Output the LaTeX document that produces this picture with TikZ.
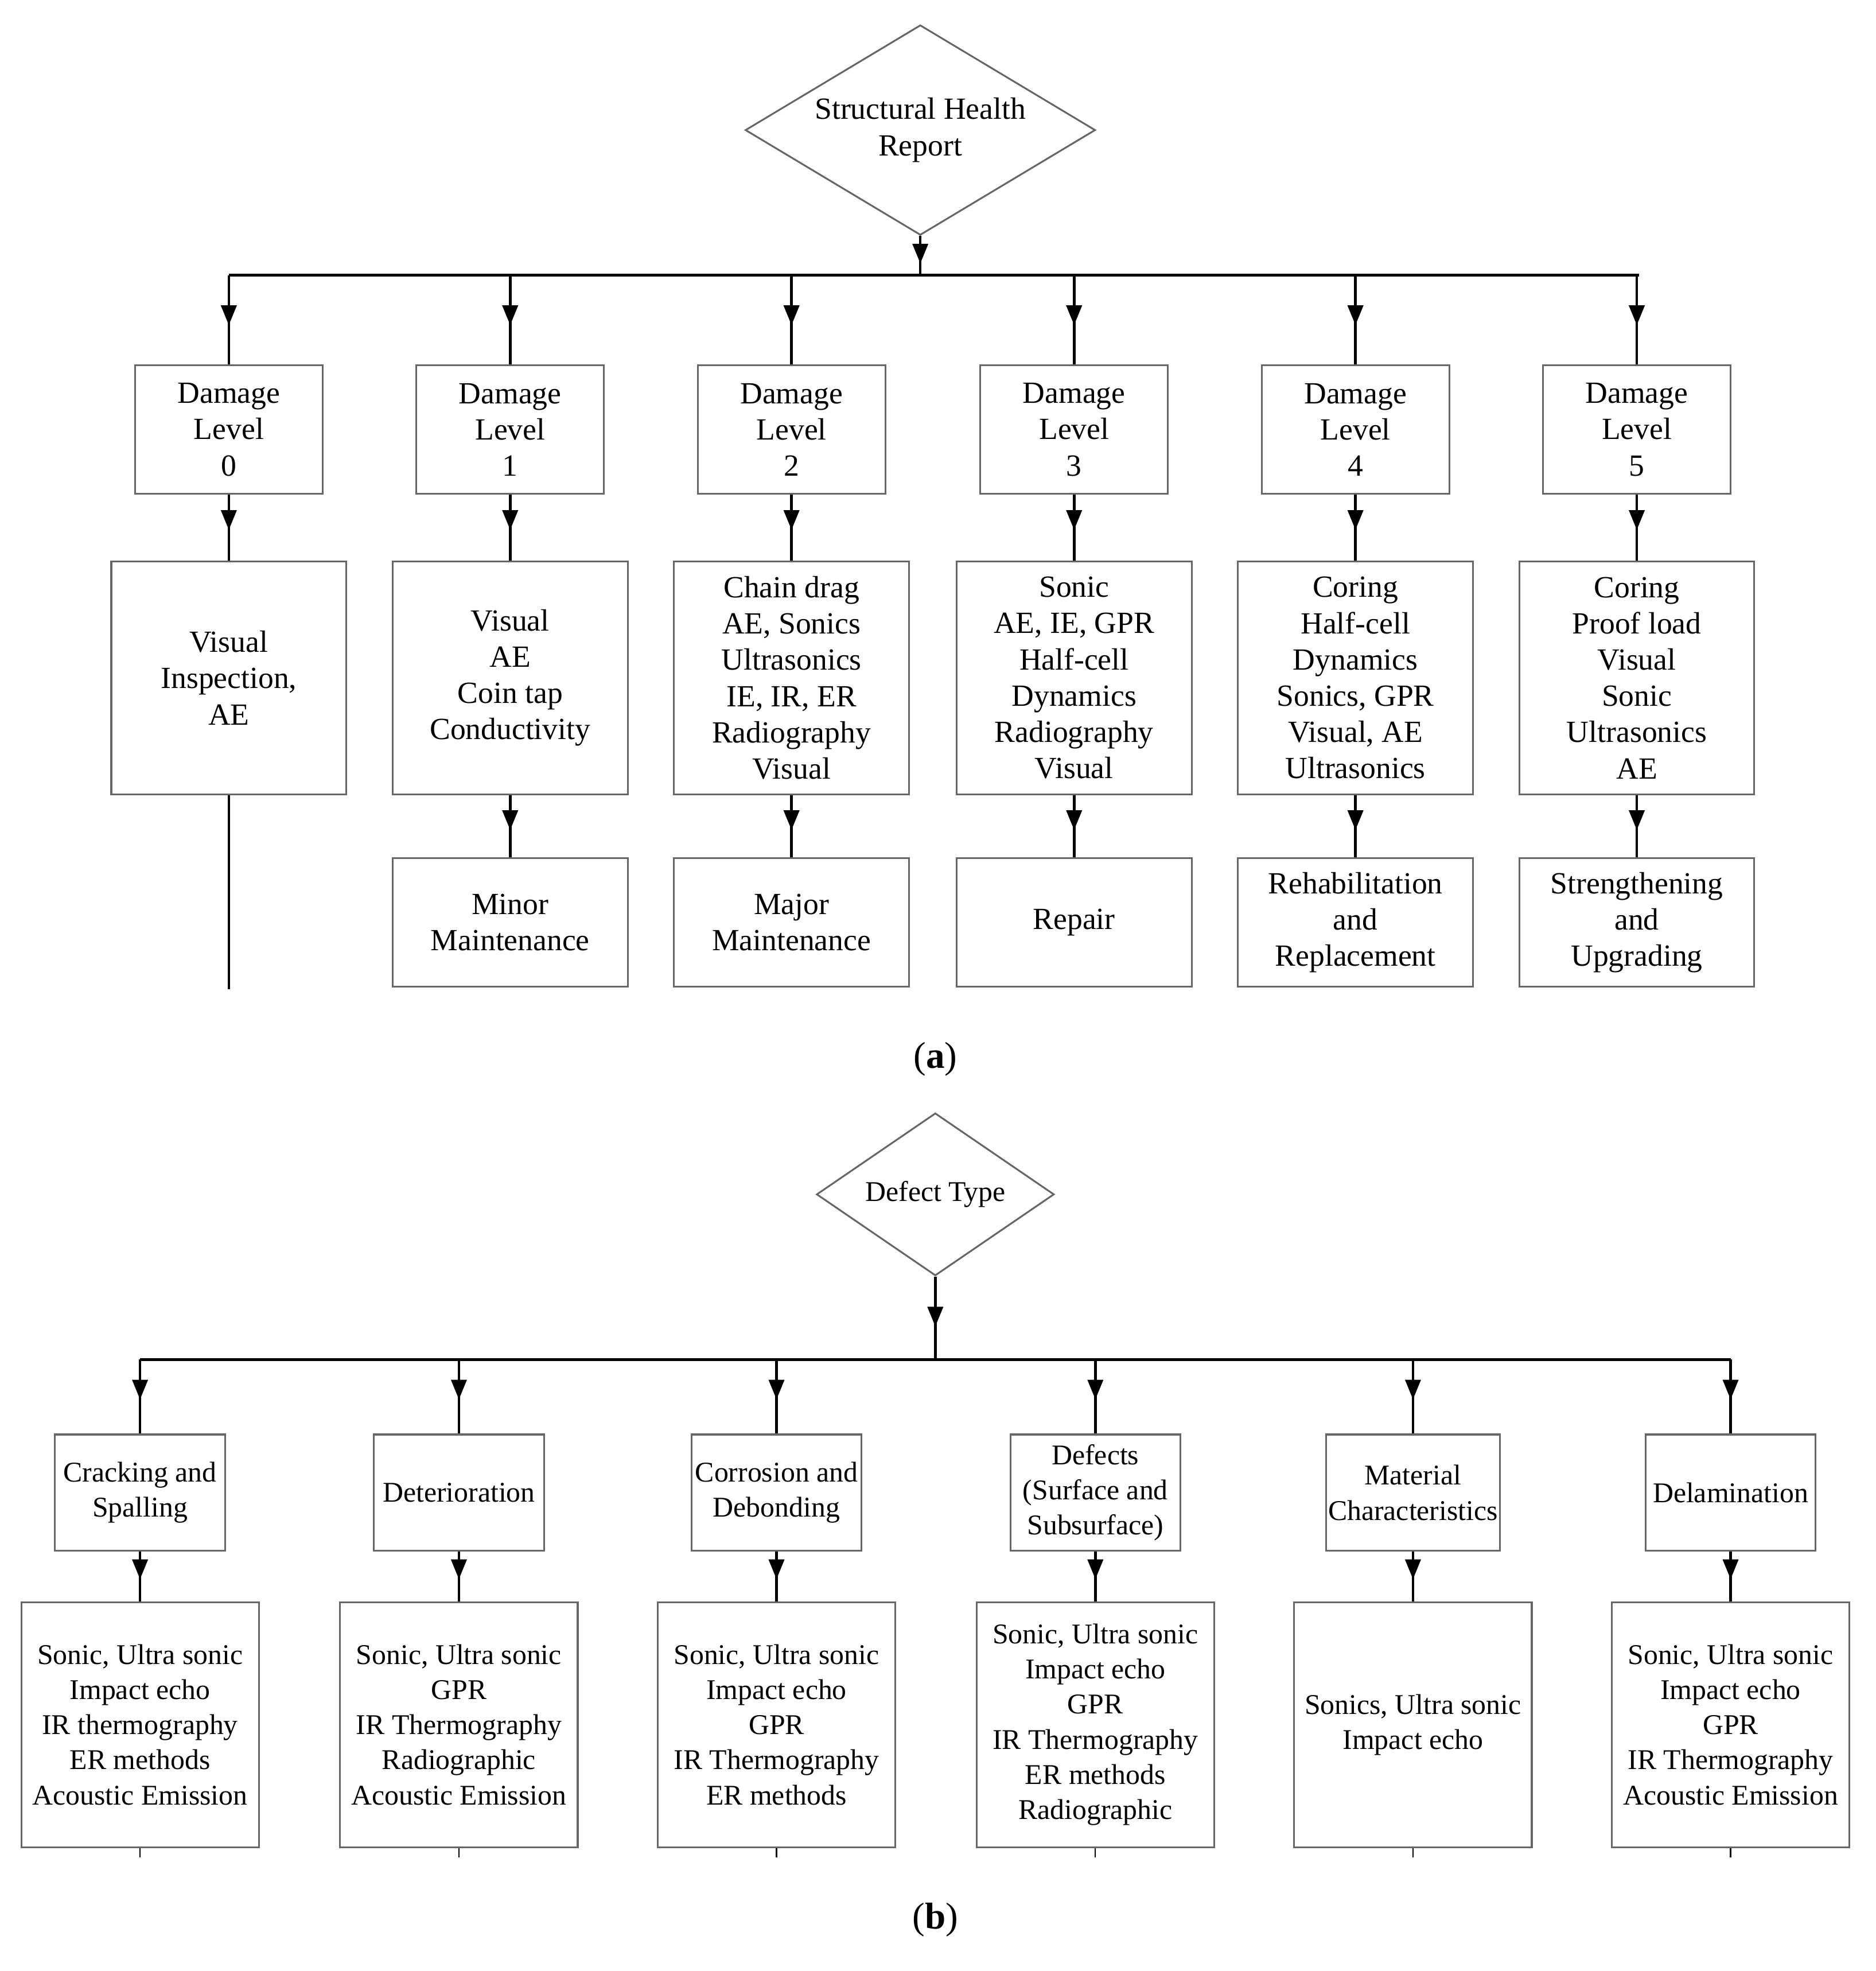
\documentclass[tikz,border=0pt]{standalone}
\usepackage{fontspec}
\setmainfont{Liberation Serif}
\usetikzlibrary{shapes.geometric,arrows.meta}
\begin{document}
\begin{tikzpicture}[x=0.02cm,y=-0.02cm,
 ar/.style={-{Triangle[length=9pt,width=7pt]},line width=1.2pt},
 ln/.style={line width=1.2pt},
 box/.style={draw=gray!80!black,line width=0.8pt,align=center,inner sep=1pt,font=\fontsize{14}{16.5}\selectfont},
 lev/.style={box,minimum width=150*0.02cm,minimum height=103*0.02cm},
 met/.style={box,minimum width=188*0.02cm,minimum height=186*0.02cm},
 outbox/.style={box,minimum width=188*0.02cm,minimum height=103*0.02cm},
 boxb/.style={draw=gray!80!black,line width=0.8pt,align=center,inner sep=1pt,font=\fontsize{13}{16}\selectfont},
 typ/.style={boxb,minimum width=136*0.02cm,minimum height=93*0.02cm},
 mb/.style={boxb,minimum width=190*0.02cm,minimum height=196*0.02cm}]
\useasboundingbox (0,0) rectangle (1500,1576);
% ---- (a)
\node[diamond,draw=gray!80!black,line width=0.8pt,aspect=1.67,minimum width=280*0.02cm,minimum height=168*0.02cm,inner sep=0pt,align=center,font=\fontsize{14}{16.5}\selectfont] (sh) at (736,104) {Structural Health\\Report};
\coordinate (bt) at (736,220);
\draw[ar] (sh.south) -- ++(0,22);
\draw[ln] (sh.south) -- (bt);
\coordinate (bl) at (183,220); \coordinate (br) at (1311,220);
\draw[ln] (bl) -- (br);
\foreach \i/\x/\m in {
 0/183/{Visual\\Inspection,\\AE},
 1/408/{Visual\\AE\\Coin tap\\Conductivity},
 2/633/{Chain drag\\AE, Sonics\\Ultrasonics\\IE, IR, ER\\Radiography\\Visual},
 3/859/{Sonic\\AE, IE, GPR\\Half-cell\\Dynamics\\Radiography\\Visual},
 4/1084/{Coring\\Half-cell\\Dynamics\\Sonics, GPR\\Visual, AE\\Ultrasonics},
 5/1309/{Coring\\Proof load\\Visual\\Sonic\\Ultrasonics\\AE}}{
 \coordinate (t\i) at (\x,220);
 \node[lev] (l\i) at (\x,343.5) {Damage\\Level\\\i};
 \node[met] (m\i) at (\x,542) {\m};
 \draw[ar] (t\i) -- ++(0,40); \draw[ln] (t\i) -- (l\i.north);
 \draw[ar] (l\i.south) -- ++(0,28); \draw[ln] (l\i.south) -- (m\i.north);
}
\foreach \i/\x/\o in {1/408/{Minor\\Maintenance},2/633/{Major\\Maintenance},3/859/{Repair},4/1084/{Rehabilitation\\and\\Replacement},5/1309/{Strengthening\\and\\Upgrading}}{
 \node[outbox] (o\i) at (\x,737.5) {\o};
 \draw[ar] (m\i.south) -- ++(0,28); \draw[ln] (m\i.south) -- (o\i.north);
}
\coordinate (e0) at (183,791);
\draw[ln] (m0.south) -- (e0);
\node[font=\fontsize{17}{20}\selectfont] (la) at (748,847) {(\textbf{a})};
% ---- (b)
\node[diamond,draw=gray!80!black,line width=0.8pt,aspect=1.46,minimum width=190*0.02cm,minimum height=130*0.02cm,inner sep=0pt,font=\fontsize{13}{16}\selectfont] (dt) at (748,955) {Defect Type};
\coordinate (bb) at (748,1087);
\draw[ar] (dt.south) -- ++(0,40); \draw[ln] (dt.south) -- (bb);
\coordinate (cl) at (112,1087); \coordinate (cr) at (1384,1087);
\draw[ln] (cl) -- (cr);
\foreach \i/\x/\t/\m in {
 1/112/{Cracking and\\Spalling}/{Sonic, Ultra sonic\\Impact echo\\IR thermography\\ER methods\\Acoustic Emission},
 2/367/{Deterioration}/{Sonic, Ultra sonic\\GPR\\IR Thermography\\Radiographic\\Acoustic Emission},
 3/621/{Corrosion and\\Debonding}/{Sonic, Ultra sonic\\Impact echo\\GPR\\IR Thermography\\ER methods},
 4/876/{Defects\\(Surface and\\Subsurface)}/{Sonic, Ultra sonic\\Impact echo\\GPR\\IR Thermography\\ER methods\\Radiographic},
 5/1130/{Material\\Characteristics}/{Sonics, Ultra sonic\\Impact echo},
 6/1384/{Delamination}/{Sonic, Ultra sonic\\Impact echo\\GPR\\IR Thermography\\Acoustic Emission}}{
 \coordinate (u\i) at (\x,1087);
 \node[typ] (y\i) at (\x,1193.5) {\t};
 \node[mb] (z\i) at (\x,1379) {\m};
 \coordinate (w\i) at (\x,1485);
 \draw[ar] (u\i) -- ++(0,32); \draw[ln] (u\i) -- (y\i.north);
 \draw[ar] (y\i.south) -- ++(0,22); \draw[ln] (y\i.south) -- (z\i.north);
 \draw[line width=0.6pt] (z\i.south) -- (w\i);
}
\node[font=\fontsize{17}{20}\selectfont] (lb) at (748,1535) {(\textbf{b})};
\end{tikzpicture}
\end{document}
